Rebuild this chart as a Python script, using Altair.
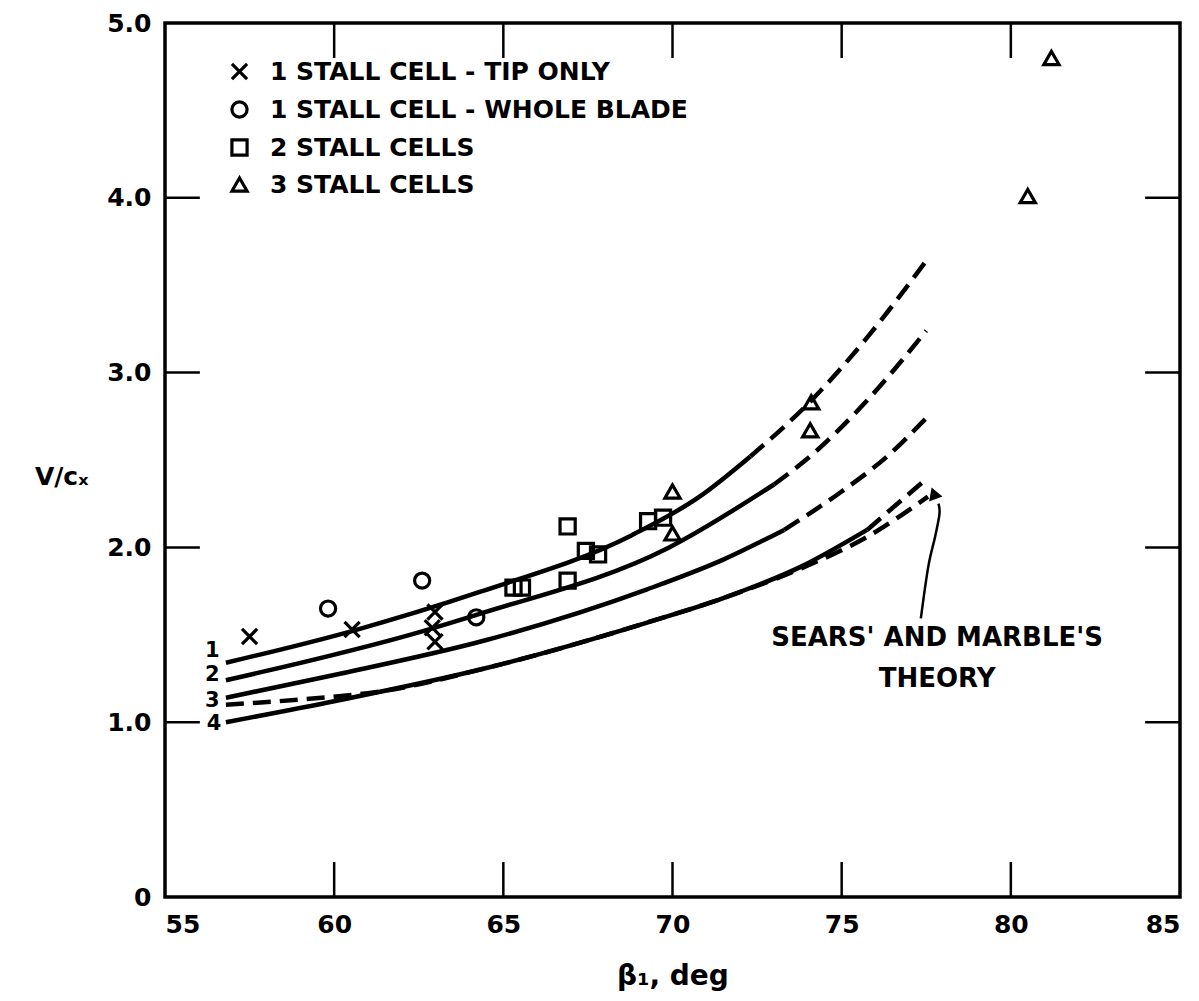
import altair as alt
import pandas as pd

# ---------------- data ----------------
# curves (beta1 in deg, V/cx); the part after *_break is drawn dashed
c1_x = [56.8, 60.5, 64.3, 68.8, 70.8, 72.3, 74.1, 75.75, 77.5]
c1_y = [1.34, 1.52, 1.745, 2.07, 2.29, 2.52, 2.84, 3.20, 3.64]
c1_break = 72.3

c2_x = [56.8, 62.6, 64.3, 69.9, 73.0, 74.3, 75.75, 77.5]
c2_y = [1.24, 1.52, 1.62, 2.00, 2.36, 2.56, 2.84, 3.24]
c2_break = 73.0

c3_x = [56.8, 60.0, 64.5, 69.25, 71.5, 73.3, 75.0, 76.4, 77.5]
c3_y = [1.14, 1.27, 1.47, 1.76, 1.93, 2.10, 2.32, 2.53, 2.74]
c3_break = 73.3

c4_x = [56.8, 60.0, 64.5, 69.25, 71.5, 73.8, 75.75, 77.55]
c4_y = [1.00, 1.12, 1.31, 1.57, 1.71, 1.89, 2.10, 2.40]
c4_break = 75.75

sears_x = [56.8, 59.0, 61.5, 64.5, 69.25, 71.5, 73.8, 75.75, 77.55]
sears_y = [1.10, 1.13, 1.18, 1.31, 1.57, 1.71, 1.88, 2.06, 2.29]

# measured points
cats = ["1 STALL CELL - TIP ONLY", "1 STALL CELL - WHOLE BLADE",
        "2 STALL CELLS", "3 STALL CELLS"]
tip_x = [57.5, 60.53, 62.98, 62.9, 62.98]
tip_y = [1.49, 1.53, 1.63, 1.54, 1.46]
whole_x = [59.82, 62.6, 64.2]
whole_y = [1.65, 1.81, 1.60]
two_x = [65.3, 65.55, 66.9, 67.44, 67.8, 66.9, 69.28, 69.72]
two_y = [1.77, 1.77, 2.12, 1.98, 1.96, 1.81, 2.15, 2.17]
three_x = [70.0, 70.0, 74.1, 74.07, 81.2, 80.5]
three_y = [2.32, 2.08, 2.83, 2.67, 4.80, 4.01]

# curve number labels
lab_text = ["1", "2", "3", "4"]
lab_x = [56.4, 56.4, 56.4, 56.45]
lab_y = [1.41, 1.27, 1.12, 0.99]

# annotation + arrow
ann_text = ["SEARS' AND MARBLE'S", "THEORY"]
ann_x = [77.82, 77.82]
ann_y = [1.48, 1.25]
arrow_x = [77.34, 77.56, 77.76, 77.89, 77.86]
arrow_y = [1.594, 1.89, 2.06, 2.19, 2.25]
head_x = [77.72]
head_y = [2.31]

# axes
x_labels = [55, 60, 65, 70, 75, 80, 85]
y_labels = [0, 1, 2, 3, 4, 5]
x_inner = [60, 65, 70, 75, 80]
y_inner = [1, 2, 3, 4]

# ---------------- tables ----------------
solid_rows, dash_rows = [], []
for name, xs_, ys_, br in [("1", c1_x, c1_y, c1_break), ("2", c2_x, c2_y, c2_break),
                           ("3", c3_x, c3_y, c3_break), ("4", c4_x, c4_y, c4_break)]:
    for x, y in zip(xs_, ys_):
        if x <= br:
            solid_rows.append({"curve": name, "x": x, "y": y})
        if x >= br:
            dash_rows.append({"curve": name, "x": x, "y": y})
for x, y in zip(sears_x, sears_y):
    dash_rows.append({"curve": "S", "x": x, "y": y})
solid_df = pd.DataFrame(solid_rows)
dash_df = pd.DataFrame(dash_rows)

pts = []
for cat, xs_, ys_ in zip(cats, [tip_x, whole_x, two_x, three_x],
                         [tip_y, whole_y, two_y, three_y]):
    for x, y in zip(xs_, ys_):
        pts.append({"cat": cat, "x": x, "y": y})
pts_df = pd.DataFrame(pts)

lab_df = pd.DataFrame({"t": lab_text, "x": lab_x, "y": lab_y})
ann_df = pd.DataFrame({"t": ann_text, "x": ann_x, "y": ann_y})
arrow_df = pd.DataFrame({"x": arrow_x, "y": arrow_y, "o": list(range(len(arrow_x)))})
head_df = pd.DataFrame({"x": head_x, "y": head_y})

ticks_bottom = pd.DataFrame({"x": x_inner, "y0": [0.0] * 5, "y1": [0.2] * 5})
ticks_top = pd.DataFrame({"x": x_inner, "y0": [5.0] * 5, "y1": [4.8] * 5})
ticks_left = pd.DataFrame({"y": y_inner, "x0": [55.0] * 4, "x1": [56.03] * 4})
ticks_right = pd.DataFrame({"y": y_inner, "x0": [85.0] * 4, "x1": [83.97] * 4})

FONT = "DejaVu Sans"

xs = alt.Scale(domain=[55, 85], nice=False, zero=False)
ys = alt.Scale(domain=[0, 5], nice=False)

X = alt.X("x:Q", scale=xs, axis=alt.Axis(
    values=x_labels, title="β₁, deg", grid=False, ticks=False, domain=False,
    labelFontSize=25, labelFont=FONT, labelFontWeight="bold", labelPadding=15,
    labelColor="black", titleFont=FONT, titleFontSize=28, titleFontWeight="bold",
    titleColor="black", titlePadding=25))
Y = alt.Y("y:Q", scale=ys, axis=alt.Axis(
    values=y_labels, title="V/cₓ", grid=False, ticks=False, domain=False,
    labelExpr="datum.value == 0 ? '0' : format(datum.value, '.1f')",
    labelFontSize=25, labelFont=FONT, labelFontWeight="bold", labelPadding=14,
    labelColor="black", titleFont=FONT, titleFontSize=25, titleFontWeight="bold",
    titleColor="black", titleAngle=0, titleAlign="right", titleBaseline="middle",
    titleX=-77, titleY=453))

solid = alt.Chart(solid_df).mark_line(color="black", strokeWidth=4.5,
                                      interpolate="monotone").encode(
    x=X, y=Y, detail="curve:N")
dashed = alt.Chart(dash_df).mark_line(color="black", strokeWidth=4.5,
                                      strokeDash=[18, 9], interpolate="monotone").encode(
    x="x:Q", y="y:Q", detail="curve:N")

xpath = "M-1,-1L1,1M-1,1L1,-1"
points = alt.Chart(pts_df).mark_point(color="black", filled=False, strokeWidth=3.2,
                                      size=230, opacity=1).encode(
    x="x:Q", y="y:Q",
    shape=alt.Shape("cat:N", scale=alt.Scale(domain=cats,
                    range=[xpath, "circle", "square", "triangle-up"]),
                    legend=alt.Legend(orient="none", legendX=62, legendY=36, title=None,
                                      labelFont=FONT, labelFontSize=25,
                                      labelFontWeight="bold", labelColor="black",
                                      labelLimit=0, rowPadding=9, labelOffset=18,
                                      symbolSize=230, symbolStrokeWidth=3.2,
                                      symbolStrokeColor="black", padding=0)))

labels = alt.Chart(lab_df).mark_text(font=FONT, fontSize=21, fontWeight="bold",
                                     color="black", align="center", baseline="middle").encode(
    x="x:Q", y="y:Q", text="t:N")
ann = alt.Chart(ann_df).mark_text(font=FONT, fontSize=26, fontWeight="bold",
                                  color="black", align="center", baseline="middle").encode(
    x="x:Q", y="y:Q", text="t:N")
arrow = alt.Chart(arrow_df).mark_line(color="black", strokeWidth=2.5,
                                      interpolate="cardinal").encode(
    x="x:Q", y="y:Q", order="o:Q")
head = alt.Chart(head_df).mark_point(shape="triangle-up", filled=True, color="black",
                                     size=200, angle=340, opacity=1).encode(
    x="x:Q", y="y:Q")

tb = alt.Chart(ticks_bottom).mark_rule(color="black", strokeWidth=2.5).encode(
    x="x:Q", y="y0:Q", y2="y1:Q")
tt = alt.Chart(ticks_top).mark_rule(color="black", strokeWidth=2.5).encode(
    x="x:Q", y="y0:Q", y2="y1:Q")
tl = alt.Chart(ticks_left).mark_rule(color="black", strokeWidth=2.5).encode(
    y="y:Q", x="x0:Q", x2="x1:Q")
tr = alt.Chart(ticks_right).mark_rule(color="black", strokeWidth=2.5).encode(
    y="y:Q", x="x0:Q", x2="x1:Q")

chart = alt.layer(solid, dashed, points, labels, ann, arrow, head, tb, tt, tl, tr).properties(
    width=1015, height=874,
    autosize=alt.AutoSizeParams(type="none"),
    padding={"left": 157, "top": 15, "right": 11, "bottom": 96},
    background="white",
).configure_view(stroke="black", strokeWidth=3.5)

chart.save("out.html", embed_options={"renderer": "svg", "actions": False})
